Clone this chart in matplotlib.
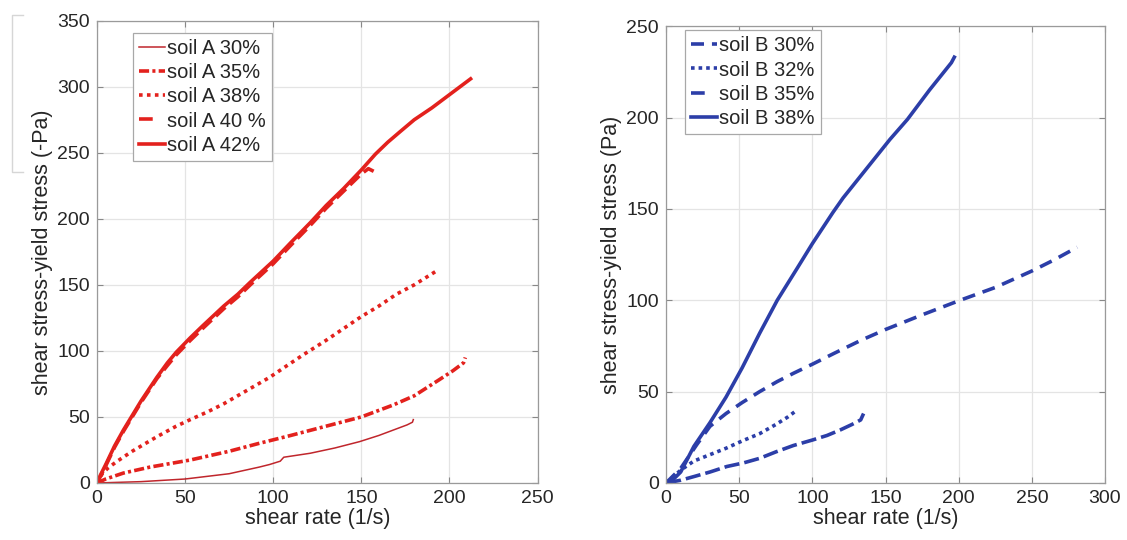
import numpy as np
import matplotlib.pyplot as plt
from matplotlib.lines import Line2D

plt.rcParams['font.family'] = ['Liberation Sans', 'DejaVu Sans']

RED = '#e3211d'
BLUE = '#2c3ea8'
LW = 2.6

# soil A curves (shear rate 1/s, shear stress - yield stress Pa)
a30_x = [0, 25, 50, 75, 92, 98, 104, 106, 110, 121, 135, 149, 160, 168, 176, 179, 179.5]
a30_y = [0, 1, 3, 7, 12, 14, 16.5, 19.5, 20.3, 22.5, 26.5, 31.3, 36, 40, 44, 46, 48]

a35_x = [0, 5, 15, 30, 53, 75, 92, 110, 130, 150, 168, 180, 194, 202, 208, 209]
a35_y = [0, 3, 7.5, 12, 17.4, 24, 30, 36, 43, 50, 59, 66, 78, 85, 91, 95]

a38_x = [0, 3, 6, 11, 20, 34, 45, 53, 63, 72, 85, 98, 108, 117, 130, 140, 150, 160, 170, 180, 192]
a38_y = [0, 7, 11, 16, 24, 35, 43, 48, 54, 60, 70, 80, 89, 97, 108, 117, 126, 134, 143, 150, 160]

a40_x = [0, 2, 5, 10, 15, 20, 25, 30, 34, 40, 45, 53, 60, 72, 80, 87, 100, 110, 121, 130, 140, 150, 154, 157]
a40_y = [0, 5, 13, 27, 39, 50, 61, 71, 79, 89, 97, 108, 117, 132, 141, 150, 166, 180, 195, 208, 221, 234, 238, 236]

a42_x = [0, 2, 5, 10, 15, 20, 25, 30, 34, 40, 45, 53, 60, 72, 80, 87, 100, 110, 121, 130,
         140, 150, 158, 165, 172, 180, 190, 198, 205, 212]
a42_y = [0, 6, 14, 28, 40, 51, 62, 72, 80, 91, 99, 110, 119, 134, 143, 152, 168, 182, 197, 210,
         223, 237, 249, 258, 266, 275, 284, 292, 299, 306]

# soil B curves
b30_x = [0, 10, 21, 30, 41, 52, 64, 76, 87, 100, 115, 133, 150, 175, 201, 225, 250, 265, 281]
b30_y = [0, 8, 21, 31, 38, 44, 50, 55.5, 60, 65, 71, 78, 84, 92, 100, 107, 116, 122, 129]

b32_x = [0, 10, 19, 30, 41, 52, 64, 75, 83, 88]
b32_y = [0, 7, 12, 15.5, 19, 23, 27, 32, 36, 39]

b35_x = [0, 10, 19, 30, 41.5, 53, 64, 75, 87, 100, 110, 119, 127, 133, 135]
b35_y = [0, 1.5, 3.5, 6, 9, 11, 13.5, 17, 20.5, 23.5, 26, 29, 32, 34.5, 38]

b38_x = [0, 5, 10, 19, 30, 41, 52, 64, 76, 90, 100, 114, 121, 130, 142, 153, 165, 180, 195, 197]
b38_y = [0, 2, 6, 20, 33, 47, 63, 82, 100, 118, 131, 148, 156, 165, 177, 188, 199, 215, 230, 233]

fig = plt.figure(figsize=(11.27, 5.4), dpi=100)
ax1 = fig.add_axes([0.086, 0.1056, 0.391, 0.856])
ax2 = fig.add_axes([0.591, 0.1056, 0.3895, 0.846])

ax1.plot(a30_x, a30_y, color='#c0262c', lw=1.1, label='soil A 30%')
ax1.plot(a35_x, a35_y, color=RED, lw=LW, dashes=(2.8, 0.9, 0.85, 0.9), label='soil A 35%')
ax1.plot(a38_x, a38_y, color=RED, lw=LW, dashes=(1.0, 1.2), label='soil A 38%')
ax1.plot(a40_x, a40_y, color=RED, lw=LW, dashes=(3.6, 1.6), label='soil A 40 %')
ax1.plot(a42_x, a42_y, color=RED, lw=LW, label='soil A 42%')

ax2.plot(b30_x, b30_y, color=BLUE, lw=LW, dashes=(3.6, 2.2), label='soil B 30%')
ax2.plot(b32_x, b32_y, color=BLUE, lw=LW, dashes=(1.0, 1.1), label='soil B 32%')
ax2.plot(b35_x, b35_y, color=BLUE, lw=LW, dashes=(4.2, 1.4), label='soil B 35%')
ax2.plot(b38_x, b38_y, color=BLUE, lw=LW, label='soil B 38%')

# a single short dash for the long-dashed entries in the legend key
def legend_handles(ax, short_dash):
    handles, labels = ax.get_legend_handles_labels()
    out = []
    for h, lab in zip(handles, labels):
        if lab == short_dash:
            h = Line2D([], [], color=h.get_color(), lw=LW, dashes=(3.8, 8.0))
        out.append(h)
    return out, labels

panels = [(ax1, 250, 350, 'shear stress-yield stress (-Pa)', 'soil A 40 %', (0.082, 0.974)),
          (ax2, 300, 250, 'shear stress-yield stress (Pa)', 'soil B 35%', (0.043, 0.991))]

for ax, xmax, ymax, ylab, short_dash, anchor in panels:
    ax.set_xlim(0, xmax)
    ax.set_ylim(0, ymax)
    ax.set_xticks(np.arange(0, xmax + 1, 50))
    ax.set_yticks(np.arange(0, ymax + 1, 50))
    ax.grid(True, color='#e4e4e4', lw=0.9)
    ax.set_axisbelow(True)
    ax.tick_params(direction='in', length=4, width=0.8, top=True, right=True,
                   labelsize=14, colors='#888888', labelcolor='#262626', pad=5)
    for s in ax.spines.values():
        s.set_color('#9a9a9a')
        s.set_linewidth(0.9)
    ax.set_xlabel('shear rate (1/s)', fontsize=15.5, color='#262626', labelpad=1)
    ax.set_ylabel(ylab, fontsize=15.5, color='#262626', labelpad=3)
    handles, labels = legend_handles(ax, short_dash)
    leg = ax.legend(handles, labels, loc='upper left', bbox_to_anchor=anchor,
                    fontsize=14.5, handlelength=1.3, handletextpad=0.1, labelspacing=0.26,
                    borderpad=0.3, borderaxespad=0.0, fancybox=False, framealpha=1)
    leg.get_frame().set_edgecolor('#a8a8a8')
    leg.get_frame().set_linewidth(0.9)
    for t in leg.get_texts():
        t.set_color('#262626')

# light bracket mark at the left edge
fig.add_artist(Line2D([0.0205, 0.0104, 0.0104, 0.0205], [0.972, 0.972, 0.681, 0.681],
                      color='#d6d6d6', lw=1.0, transform=fig.transFigure))

fig.savefig('out.png', dpi=100)
